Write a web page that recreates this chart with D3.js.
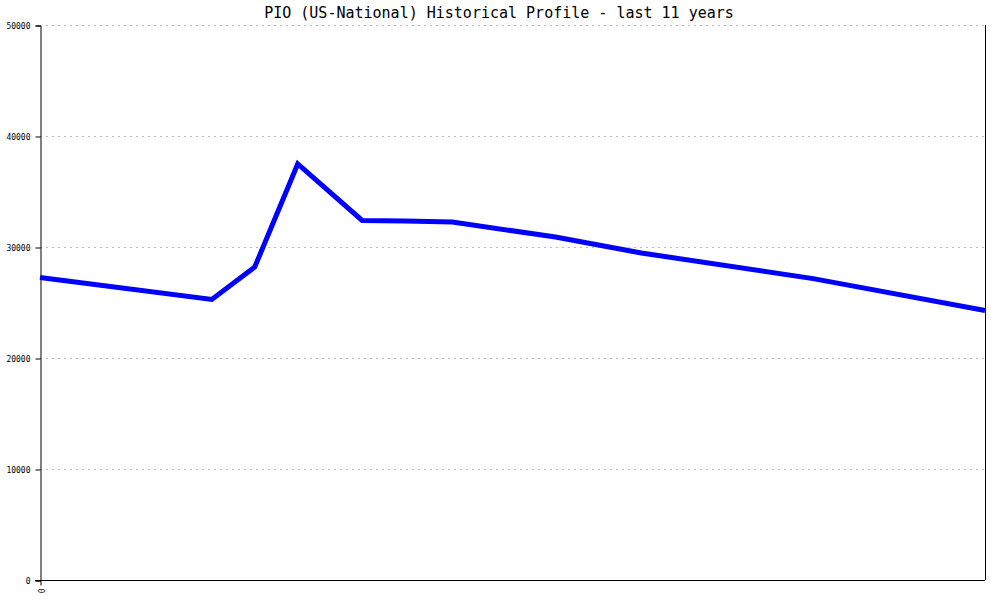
<!DOCTYPE html>
<html><head><meta charset="utf-8">
<script src="https://cdn.jsdelivr.net/npm/d3@7"></script>
<style>body{margin:0;background:#fff}svg{display:block}</style>
</head><body>
<script>
const title = "PIO (US-National) Historical Profile - last 11 years";
// time in years since start of the 11-year window
const years = [0, 2, 2.5, 3, 3.75, 4.25, 4.8, 6, 6.5, 7, 9, 11];
const values = [27250, 25270, 28200, 37480, 32390, 32340, 32250, 30900, 30180, 29460, 27150, 24280];
const yTicks = [0, 10000, 20000, 30000, 40000, 50000];
const xTickLabels = ["0"];

const W = 1000, H = 600;
const L = 40, R = 985, T = 25, B = 580;
const svg = d3.select("body").append("svg").attr("width", W).attr("height", H);
const x = d3.scaleLinear().domain([0, 11]).range([L, R]);
const y = d3.scaleLinear().domain([0, 50000]).range([B, T]);

// grid
svg.append("g").selectAll("line").data(yTicks.filter(d => d > 0)).join("line")
  .attr("x1", L).attr("x2", R)
  .attr("y1", d => y(d) + 0.5).attr("y2", d => y(d) + 0.5)
  .attr("stroke", "#bbbbbb").attr("stroke-dasharray", "2,4");

// left axis
const ya = d3.axisLeft(y).tickValues(yTicks).tickSize(5).tickPadding(5).tickFormat(d3.format("d"));
const gy = svg.append("g").attr("transform", `translate(${L + 0.5},0.5)`).call(ya);
gy.select(".domain").attr("stroke", "#000");
gy.selectAll("text").attr("font-family", "DejaVu Sans Mono, monospace").attr("font-size", 8).attr("fill", "#000");

// right line
svg.append("line").attr("x1", R + 0.5).attr("x2", R + 0.5).attr("y1", T).attr("y2", B).attr("stroke", "#000");

// bottom axis
const xa = d3.axisBottom(x).tickValues([0]).tickSize(5).tickFormat((d, i) => xTickLabels[i]);
const gx = svg.append("g").attr("transform", `translate(0.5,${B + 0.5})`).call(xa);
gx.select(".domain").remove();
svg.append("line").attr("x1", L - 5).attr("x2", R).attr("y1", B + 0.5).attr("y2", B + 0.5).attr("stroke", "#000");
gx.selectAll("text").attr("font-family", "DejaVu Sans Mono, monospace").attr("font-size", 8).attr("fill", "#000")
  .attr("transform", "rotate(90)").attr("text-anchor", "start").attr("dy", "0.35em").attr("x", 8).attr("y", 0);

// line
svg.append("path").datum(d3.zip(years, values))
  .attr("fill", "none").attr("stroke", "#0000ff").attr("stroke-width", 5)
  .attr("stroke-linejoin", "miter")
  .attr("d", d3.line().x(d => x(d[0])).y(d => y(d[1])));

// clip overflow at right edge
svg.append("text").attr("x", 499).attr("y", 18).attr("text-anchor", "middle")
  .attr("font-family", "DejaVu Sans Mono, monospace").attr("font-size", 15).attr("fill", "#000")
  .text(title);
</script>
</body></html>
